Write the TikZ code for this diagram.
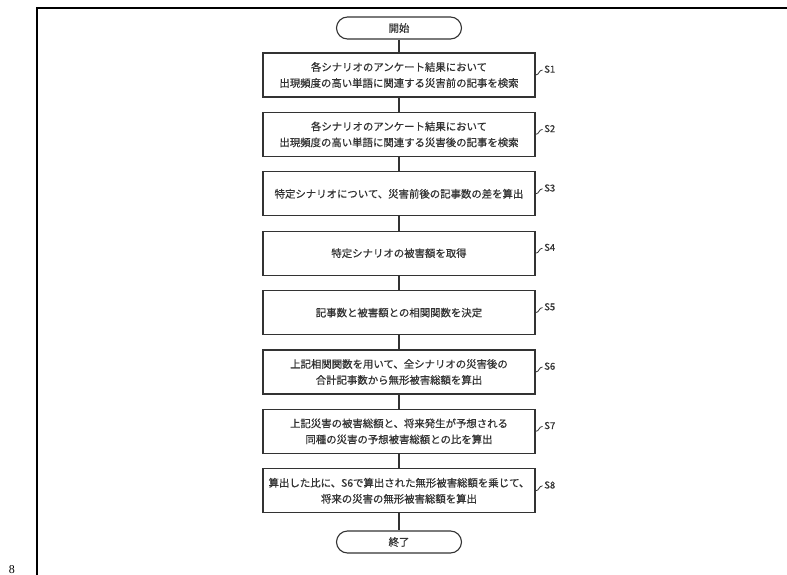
\documentclass[tikz,border=0pt]{standalone}
\usepackage{fontspec}
\newfontfamily\jpfont[FakeBold=0.6]{Noto Sans CJK JP}
\setmainfont{Liberation Serif}
\usetikzlibrary{positioning}
\definecolor{ink}{HTML}{333333}
\tikzset{
  stepbox/.style={draw=ink, line width=1.1pt, minimum width=272pt, minimum height=44pt,
    align=center, font=\jpfont\fontsize{10.4pt}{16pt}\selectfont, text=ink, inner sep=0pt},
  term/.style={draw=ink, line width=1.1pt, minimum width=125pt, minimum height=22pt,
    rounded corners=11pt, font=\jpfont\fontsize{10.4pt}{12pt}\selectfont, text=ink, inner sep=0pt},
  conn/.style={draw=ink, line width=1.1pt},
  slabel/.style={font=\jpfont\fontsize{9.5pt}{10pt}\selectfont, text=ink, anchor=south west, inner sep=0pt},
  tick/.style={draw=ink, line width=0.8pt}
}
\begin{document}
\begin{tikzpicture}[x=1pt,y=-1pt]
\useasboundingbox (0,0) rectangle (787,575);
\fill[white] (0,0) rectangle (787,575);
% frame
\draw[line width=2.2pt, black] (37,700) -- (37,8) -- (900,8);
\node[font=\fontsize{12pt}{12pt}\selectfont, anchor=south, inner sep=0pt] (fig) at (12,574) {8};
% terminals
\node[term] (start) at (399,28) {開始};
\node[term] (end) at (399,542) {終了};
% steps
\node[stepbox] (s1) at (399,75) {各シナリオのアンケート結果において\\出現頻度の高い単語に関連する災害前の記事を検索};
\node[stepbox] (s2) at (399,134.4) {各シナリオのアンケート結果において\\出現頻度の高い単語に関連する災害後の記事を検索};
\node[stepbox] (s3) at (399,193.8) {特定シナリオについて、災害前後の記事数の差を算出};
\node[stepbox] (s4) at (399,253.2) {特定シナリオの被害額を取得};
\node[stepbox] (s5) at (399,312.6) {記事数と被害額との相関関数を決定};
\node[stepbox] (s6) at (399,372) {上記相関関数を用いて、全シナリオの災害後の\\合計記事数から無形被害総額を算出};
\node[stepbox] (s7) at (399,431.4) {上記災害の被害総額と、将来発生が予想される\\同種の災害の予想被害総額との比を算出};
\node[stepbox] (s8) at (399,490.8) {算出した比に、S6で算出された無形被害総額を乗じて、\\将来の災害の無形被害総額を算出};
% connectors
\draw[conn] (start) -- (s1);
\draw[conn] (s1) -- (s2);
\draw[conn] (s2) -- (s3);
\draw[conn] (s3) -- (s4);
\draw[conn] (s4) -- (s5);
\draw[conn] (s5) -- (s6);
\draw[conn] (s6) -- (s7);
\draw[conn] (s7) -- (s8);
\draw[conn] (s8) -- (end);
% step labels
\foreach \n/\t in {s1/S1,s2/S2,s3/S3,s4/S4,s5/S5,s6/S6,s7/S7,s8/S8}{
  \coordinate (\n tk) at ([shift={(7,-5)}]\n.east);
  \draw[tick] (\n.east) .. controls ([shift={(4,0)}]\n.east) and ([shift={(3,-5)}]\n.east) .. (\n tk);
  \node[slabel] (\n lab) at ([shift={(1.5,3)}]\n tk) {\t};
}
\end{tikzpicture}
\end{document}
